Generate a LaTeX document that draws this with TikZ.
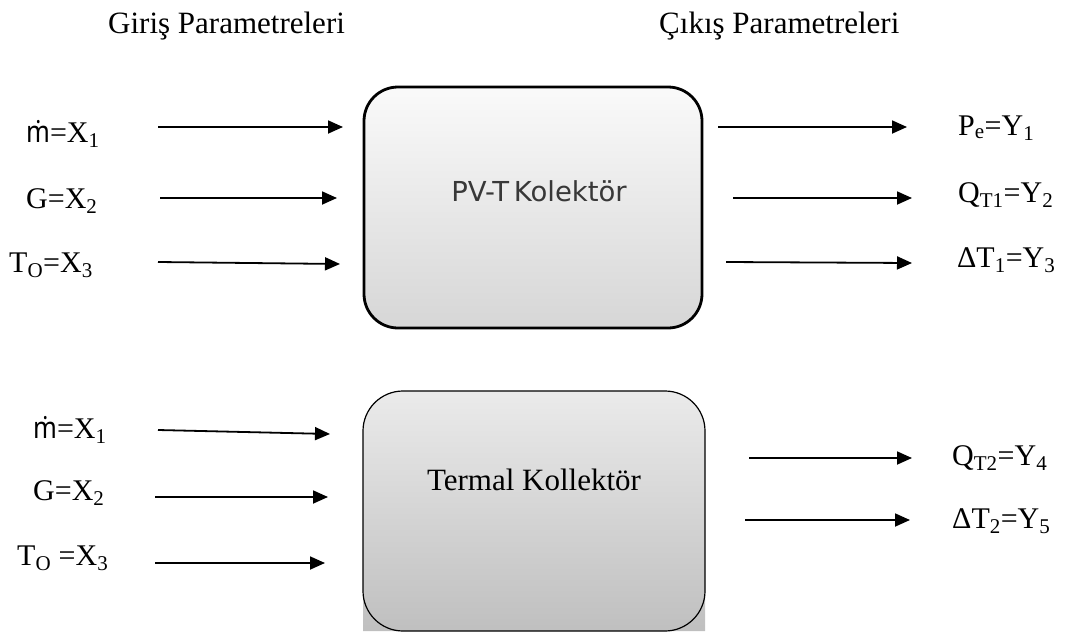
\documentclass[tikz,border=0pt]{standalone}
\usepackage{fontspec}
\usepackage{graphicx}
\setmainfont{Liberation Serif}
\setsansfont{Liberation Sans}
\newfontfamily\pvfont{DejaVu Sans}
\newfontfamily\mfont{Noto Sans}
\usetikzlibrary{arrows.meta}
\newcommand{\mdot}{\scalebox{0.85}[1]{\mfont ṁ}}
\tikzset{
  lbl/.style={anchor=base west, inner sep=0pt, font=\fontsize{30}{34}\selectfont},
  ttl/.style={anchor=base west, inner sep=0pt, font=\fontsize{31}{35}\selectfont},
  conn/.style={line width=1.8pt, -{Triangle[length=15pt,width=13pt]}},
}
\begin{document}
\begin{tikzpicture}[x=1pt,y=-1pt]
\useasboundingbox (0,0) rectangle (1074,632);
% titles
\node[ttl] (tin) at (108,33) {Giriş Parametreleri};
\node[ttl] (tout) at (659,33) {Çıkış Parametreleri};

% PV-T box
\node[draw, line width=2.8pt, rounded corners=34pt, minimum width=338pt, minimum height=241pt,
      top color=white!98!black, bottom color=white!84!black] (pvt) at (533,207.5) {};
\node[anchor=base, inner sep=0pt, text=black!78, font=\pvfont\fontsize{27.5}{30}\selectfont] (pvtl) at (539,201) {PV-T\,Kolektör};

% Termal box
\shade[top color=white!92!black, bottom color=white!75!black]
  (363,631) -- (363,431) arc[start angle=180, end angle=270, radius=40]
  -- (665,391) arc[start angle=270, end angle=360, radius=40] -- (705,631) -- cycle;
\node[draw, line width=1.2pt, rounded corners=40pt, minimum width=342pt, minimum height=240pt] (ter) at (534,511) {};
\node[anchor=base, inner sep=0pt, font=\fontsize{31}{35}\selectfont] (terl) at (534,490) {Termal Kollektör};

% top inputs
\node[lbl] (i1) at (26,142) {\mdot=X\textsubscript{1}};
\node[lbl] (i2) at (26,208) {G=X\textsubscript{2}};
\node[lbl] (i3) at (9,272) {T\textsubscript{O}=X\textsubscript{3}};
\coordinate (i1s) at (158,127); \coordinate (i1e) at (343,127);
\coordinate (i2s) at (160,198); \coordinate (i2e) at (337,198);
\coordinate (i3s) at (158,262); \coordinate (i3e) at (340,264);
\draw[conn] (i1s) -- (i1e);
\draw[conn] (i2s) -- (i2e);
\draw[conn] (i3s) -- (i3e);

% top outputs
\node[lbl] (o1) at (958,135) {P\textsubscript{e}=Y\textsubscript{1}};
\node[lbl] (o2) at (958,202) {Q\textsubscript{T1}=Y\textsubscript{2}};
\node[lbl] (o3) at (957,267) {ΔT\textsubscript{1}=Y\textsubscript{3}};
\coordinate (o1s) at (718,127); \coordinate (o1e) at (907,127);
\coordinate (o2s) at (733,198); \coordinate (o2e) at (912,198);
\coordinate (o3s) at (726,262); \coordinate (o3e) at (912,263);
\draw[conn] (o1s) -- (o1e);
\draw[conn] (o2s) -- (o2e);
\draw[conn] (o3s) -- (o3e);

% bottom inputs
\node[lbl] (j1) at (33,438) {\mdot=X\textsubscript{1}};
\node[lbl] (j2) at (33,500) {G=X\textsubscript{2}};
\node[lbl] (j3) at (17,565) {T\textsubscript{O} =X\textsubscript{3}};
\coordinate (j1s) at (158,430); \coordinate (j1e) at (330,434);
\coordinate (j2s) at (155,497); \coordinate (j2e) at (328,497);
\coordinate (j3s) at (155,563); \coordinate (j3e) at (325,563);
\draw[conn] (j1s) -- (j1e);
\draw[conn] (j2s) -- (j2e);
\draw[conn] (j3s) -- (j3e);

% bottom outputs
\node[lbl] (p1) at (952,465) {Q\textsubscript{T2}=Y\textsubscript{4}};
\node[lbl] (p2) at (952,528) {ΔT\textsubscript{2}=Y\textsubscript{5}};
\coordinate (p1s) at (749,458); \coordinate (p1e) at (912,458);
\coordinate (p2s) at (745,520); \coordinate (p2e) at (910,520);
\draw[conn] (p1s) -- (p1e);
\draw[conn] (p2s) -- (p2e);
\end{tikzpicture}
\end{document}
